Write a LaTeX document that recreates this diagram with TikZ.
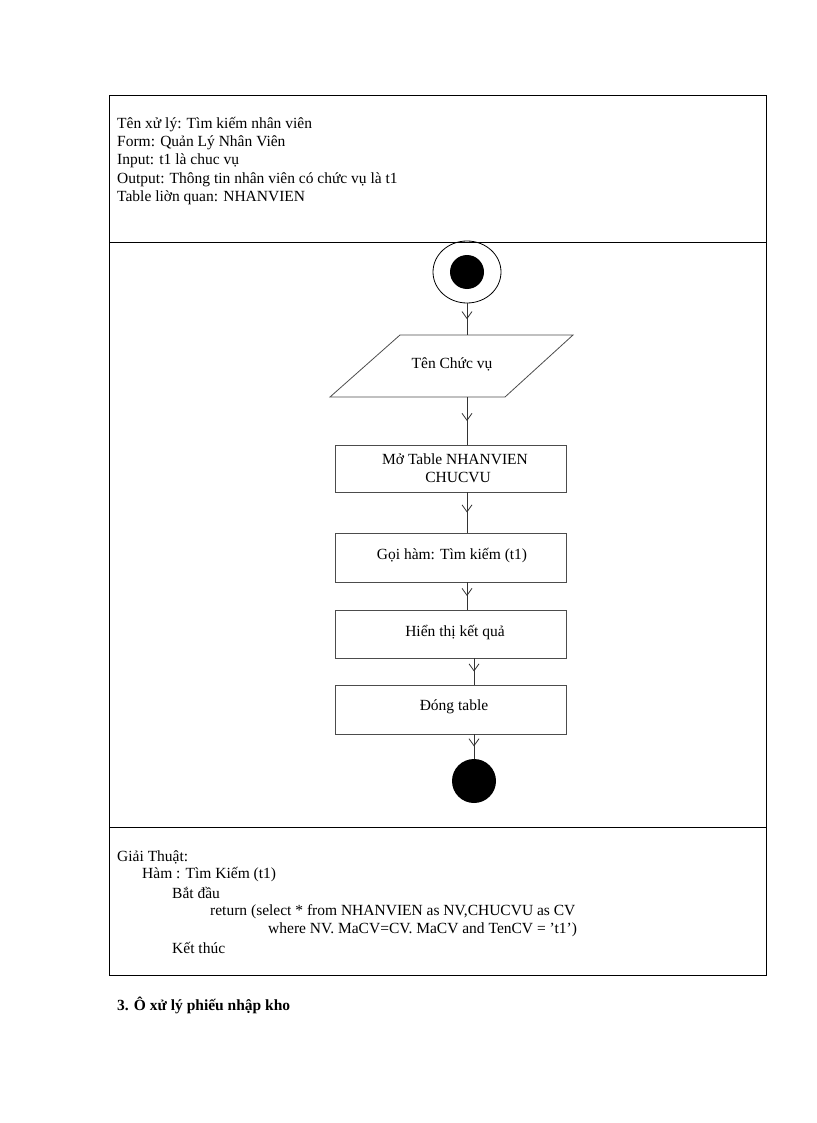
\documentclass[tikz,border=0pt]{standalone}
\usepackage{fontspec}
\setmainfont{Liberation Serif}
\usetikzlibrary{decorations.markings,arrows.meta,shapes.geometric}
\begin{document}
\begin{tikzpicture}[x=1pt,y=-1pt,
  txt/.style={anchor=west,inner sep=0pt,font=\fontsize{15.5}{18}\selectfont},
  ctxt/.style={inner sep=0pt,font=\fontsize{15.5}{18}\selectfont,align=center},
  box/.style={draw=black!70,line width=0.8pt},
  flow/.style={draw=black!80,line width=0.8pt,postaction={decorate},
    decoration={markings,mark=at position 0.5 with {\arrow{Straight Barb[length=7pt,width=10pt]}}}}]
\useasboundingbox (0,0) rectangle (816,1123);
% table
\draw[line width=0.8pt] (109,95) rectangle (766,975);
\draw[line width=0.8pt] (109,242) -- (766,242);
\draw[line width=0.8pt] (109,827) -- (766,827);
\node[txt] (t1) at (117,125) {Tên xử lý:  Tìm  kiếm nhân  viên};
\node[txt] (t2) at (117,143) {Form:  Quản Lý Nhân Viên};
\node[txt] (t3) at (117,161) {Input:  t1 là chuc  vụ};
\node[txt] (t4) at (117,180) {Output:  Thông  tin nhân  viên  có chức vụ là t1};
\node[txt] (t5) at (117,198) {Table  liờn  quan:  NHANVIEN};
% start
\node[draw,line width=0.8pt,ellipse,minimum width=68pt,minimum height=62pt,inner sep=0pt] (s) at (467,272) {};
\node[circle,fill=black,minimum size=34pt,inner sep=0pt] (si) at (467,272) {};
% parallelogram
\coordinate (pt) at (467,335);
\draw[box] (400,335) -- (573,335) -- (505,397) -- (330,397) -- cycle;
\node[ctxt] (p) at (452,364) {Tên Chức vụ};
\coordinate (pb) at (467,397);
% boxes
\draw[box] (335,445) rectangle (566,492);
\node[ctxt] (b1) at (455,468) {Mở Table NHANVIEN\\\hspace*{6pt}CHUCVU};
\draw[box] (335,533) rectangle (566,582);
\node[ctxt] (b2) at (452,556) {Gọi hàm:  Tìm kiếm (t1)};
\draw[box] (335,610) rectangle (566,658);
\node[ctxt] (b3) at (455,633) {Hiển thị kết quả};
\draw[box] (335,685) rectangle (566,734);
\node[ctxt] (b4) at (454,707) {Đóng table};
\node[circle,fill=black,minimum size=44pt,inner sep=0pt] (e) at (474,781) {};
\coordinate (b1t) at (467,445); \coordinate (b1b) at (467,492);
\coordinate (b2t) at (467,533); \coordinate (b2b) at (467,582);
\coordinate (b3t) at (467,610); \coordinate (b3b) at (474,658);
\coordinate (b4t) at (474,685); \coordinate (b4b) at (474,734);
\draw[flow] (s.south) -- (pt);
\draw[flow] (pb) -- (b1t);
\draw[flow] (b1b) -- (b2t);
\draw[flow] (b2b) -- (b3t);
\draw[flow] (b3b) -- (b4t);
\draw[flow] (b4b) -- (e.north);
% algorithm
\node[txt] (a1) at (117,857) {Giải  Thuật:};
\node[txt] (a2) at (142,875) {Hàm  : Tìm  Kiếm  (t1)};
\node[txt] (a3) at (172,893) {Bắt  đầu};
\node[txt] (a4) at (210,912) {return  (select  * from  NHANVIEN  as NV,CHUCVU  as CV};
\node[txt] (a5) at (268,930) {where  NV.  MaCV=CV.  MaCV and TenCV = ’t1’)};
\node[txt] (a6) at (172,948) {Kết thúc};
\node[txt,font=\fontsize{15.5}{18}\selectfont\bfseries] (h) at (117,1005) {3. Ô xử lý phiếu nhập  kho};
\end{tikzpicture}
\end{document}
